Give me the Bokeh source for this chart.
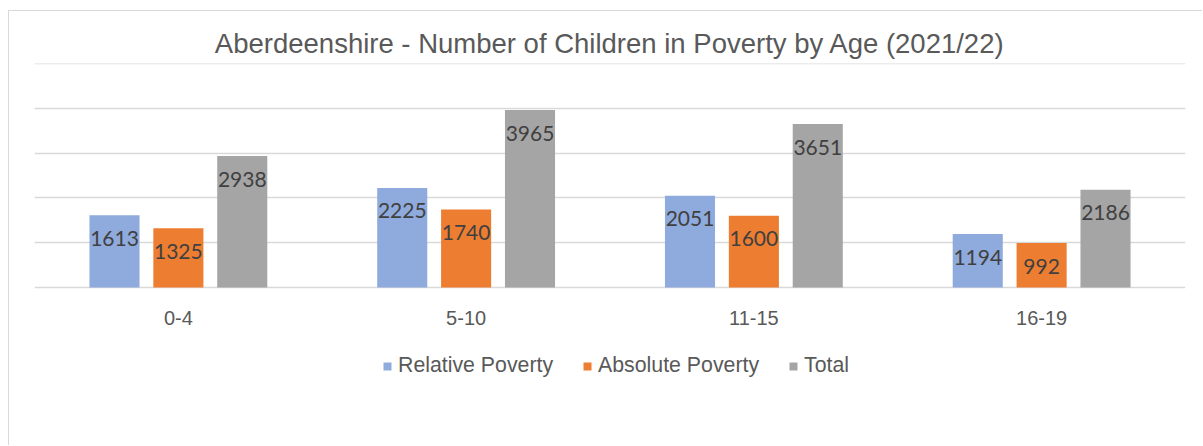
from bokeh.plotting import figure
from bokeh.models import ColumnDataSource, FactorRange, Range1d, Legend, LegendItem, LabelSet, Title
from bokeh.core.properties import value
from bokeh.transform import dodge
from bokeh.embed import file_html
from bokeh.resources import INLINE

categories = ["0-4", "5-10", "11-15", "16-19"]
relative_poverty = [1613, 2225, 2051, 1194]
absolute_poverty = [1325, 1740, 1600, 992]
total = [2938, 3965, 3651, 2186]
series_names = ["Relative Poverty", "Absolute Poverty", "Total"]
title_text = "Aberdeenshire - Number of Children in Poverty by Age (2021/22)"
gridline_values = [0, 1000, 2000, 3000, 4000, 5000]

colors = ["#8FAADC", "#ED7D31", "#A5A5A5"]

src = ColumnDataSource(dict(
    cat=categories,
    zero=[0] * len(categories),
    rel=relative_poverty,
    abs=absolute_poverty,
    tot=total,
    rel_t=[str(v) for v in relative_poverty],
    abs_t=[str(v) for v in absolute_poverty],
    tot_t=[str(v) for v in total],
))

W, H = 1194, 435
# frame: 0 sits 224px below 5000; extra room below 0 holds category labels and legend
p = figure(width=W, height=H, x_range=FactorRange(*categories, range_padding=0),
           y_range=Range1d(-3556, 5006), output_backend="svg", toolbar_location=None,
           min_border_left=25, min_border_right=18, min_border_top=52, min_border_bottom=0)
p.styles = {"margin-left": "8px", "margin-top": "10px",
            "border-left": "1px solid #D9D9D9", "border-top": "1px solid #D9D9D9"}

p.title = Title(text=title_text, align="center", text_font="Liberation Sans",
                text_font_size="27.5px", text_font_style="normal", text_color="#595959",
                standoff=10)

p.outline_line_color = None
p.yaxis.visible = False
p.xaxis.visible = False
p.xgrid.grid_line_color = None
p.ygrid.grid_line_color = "#D9D9D9"
p.ygrid.grid_line_width = 1.3
p.ygrid.ticker = gridline_values

# category labels under the bars
cat_labels = LabelSet(x="cat", y="zero", text="cat", source=src, text_align="center",
                      text_baseline="middle", y_offset=-31, text_font=value("Liberation Sans"),
                      text_font_size=value("20px"), text_color="#595959")
p.add_layout(cat_labels)

bw = 0.174
off = 0.222
renderers = []
for key, o, c in zip(["rel", "abs", "tot"], [-off, 0, off], colors):
    r = p.vbar(x=dodge("cat", o, range=p.x_range), top=key, width=bw, source=src,
               fill_color=c, line_color=None)
    renderers.append(r)
    lab = LabelSet(x=dodge("cat", o, range=p.x_range), y=key, text=key + "_t", source=src,
                   text_align="center", text_baseline="middle", y_offset=-23,
                   text_font=value("Lato"), text_font_size=value("21px"), text_color="#404040")
    p.add_layout(lab)

legend = Legend(items=[LegendItem(label=n, renderers=[r]) for n, r in zip(series_names, renderers)],
                orientation="horizontal", location=(348, 68),
                glyph_width=10, glyph_height=10, label_standoff=6, spacing=29,
                label_height=24, label_text_font="Liberation Sans", label_text_font_size="21.3px",
                label_text_color="#595959", padding=0, margin=0,
                border_line_color=None, background_fill_alpha=0)
p.add_layout(legend, "center")

open("out.html", "w").write(file_html(p, INLINE))
